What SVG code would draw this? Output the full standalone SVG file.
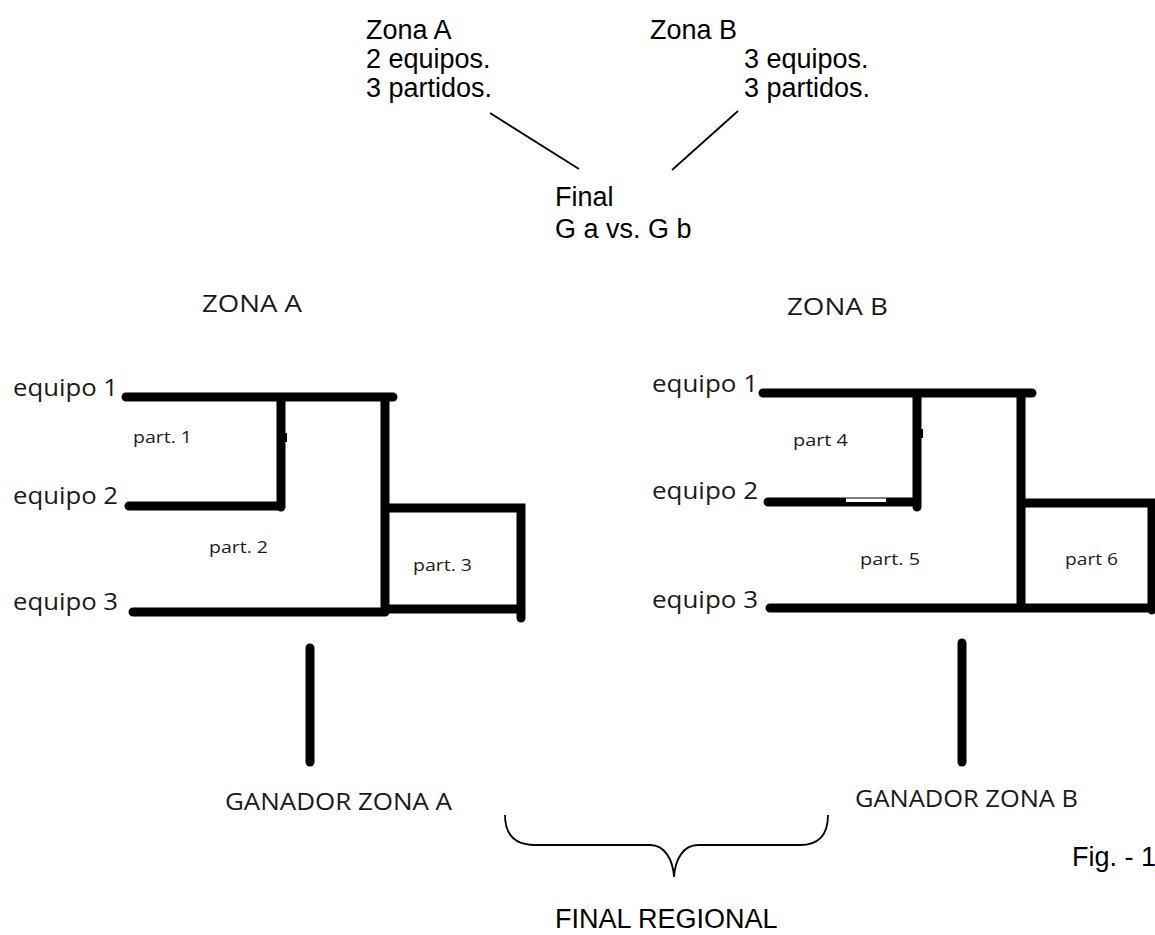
<svg xmlns="http://www.w3.org/2000/svg" width="1155" height="935" viewBox="0 0 1155 935">
<style>
.a{font-family:"Liberation Sans",Arial,sans-serif;font-size:27px;fill:#000}
.c{font-family:"Open Sans","Noto Sans",sans-serif;font-size:24px;fill:#1a1a1a}
.p{font-family:"Open Sans","Noto Sans",sans-serif;font-size:16px;fill:#1a1a1a}
.b{stroke:#000;stroke-width:9;stroke-linecap:round;fill:none}
.t{stroke:#000;stroke-width:1.8;fill:none}
</style>
<rect width="1155" height="935" fill="#fff"/>
<g id="zona-a-info">
<text class="a" x="366" y="39">Zona A</text>
<text class="a" x="366" y="68">2 equipos.</text>
<text class="a" x="366" y="97">3 partidos.</text>
</g>
<g id="zona-b-info">
<text class="a" x="650" y="39">Zona B</text>
<text class="a" x="744" y="68">3 equipos.</text>
<text class="a" x="744" y="97">3 partidos.</text>
</g>
<g id="final">
<text class="a" x="555" y="206">Final</text>
<text class="a" x="555" y="238">G a vs. G b</text>
</g>
<g id="connectors">
<line class="t" x1="490" y1="113" x2="579" y2="169"/>
<line class="t" x1="738" y1="111" x2="672" y2="170"/>
<path class="t" d="M505 815 C505 835 515 845 535 845 L650 845 C665 845 673 860 674 877 C675 860 683 845 698 845 L800 845 C818 845 828 835 828 815"/>
</g>
<g id="bracket-a">
<text class="c" x="202" y="312" textLength="100" lengthAdjust="spacingAndGlyphs">ZONA A</text>
<text class="c" x="13" y="396" textLength="105" lengthAdjust="spacingAndGlyphs">equipo 1</text>
<text class="c" x="13" y="504" textLength="105" lengthAdjust="spacingAndGlyphs">equipo 2</text>
<text class="c" x="13" y="610" textLength="105" lengthAdjust="spacingAndGlyphs">equipo 3</text>
<path class="b" d="M126 397 H393 M281 397 V507 M129 506 H281 M385 397 V612 M385 508 H521 V618 M133 612 H385 M385 609 H521"/>
<rect x="283" y="433" width="4" height="9" fill="#000"/>
<text class="p" x="133" y="443" textLength="59" lengthAdjust="spacingAndGlyphs">part. 1</text>
<text class="p" x="209" y="553" textLength="59" lengthAdjust="spacingAndGlyphs">part. 2</text>
<text class="p" x="413" y="571" textLength="59" lengthAdjust="spacingAndGlyphs">part. 3</text>
<path class="b" d="M310 648 V762"/>
<text class="c" x="225" y="810" textLength="227" lengthAdjust="spacingAndGlyphs">GANADOR ZONA A</text>
</g>
<g id="bracket-b">
<text class="c" x="787" y="315" textLength="101" lengthAdjust="spacingAndGlyphs">ZONA B</text>
<text class="c" x="652" y="392" textLength="106" lengthAdjust="spacingAndGlyphs">equipo 1</text>
<text class="c" x="652" y="499" textLength="106" lengthAdjust="spacingAndGlyphs">equipo 2</text>
<text class="c" x="652" y="608" textLength="106" lengthAdjust="spacingAndGlyphs">equipo 3</text>
<path class="b" d="M763 393 H1032 M917 393 V507 M768 502 H917 M1021 393 V608 M1021 503 H1160 M770 608 H1160 M1152 503 V610"/>
<rect x="846" y="498.5" width="40" height="3.5" fill="#fff"/>
<rect x="919" y="429" width="4" height="9" fill="#000"/>
<text class="p" x="793" y="446" textLength="55" lengthAdjust="spacingAndGlyphs">part 4</text>
<text class="p" x="860" y="565" textLength="60" lengthAdjust="spacingAndGlyphs">part. 5</text>
<text class="p" x="1065" y="565" textLength="53" lengthAdjust="spacingAndGlyphs">part 6</text>
<path class="b" d="M962 643 V762"/>
<text class="c" x="855" y="807" textLength="223" lengthAdjust="spacingAndGlyphs">GANADOR ZONA B</text>
</g>
<g id="final-regional">
<text class="a" x="555" y="928">FINAL REGIONAL</text>
</g>
<g id="fig">
<text class="a" x="1072" y="866">Fig. - 1</text>
</g>
</svg>
